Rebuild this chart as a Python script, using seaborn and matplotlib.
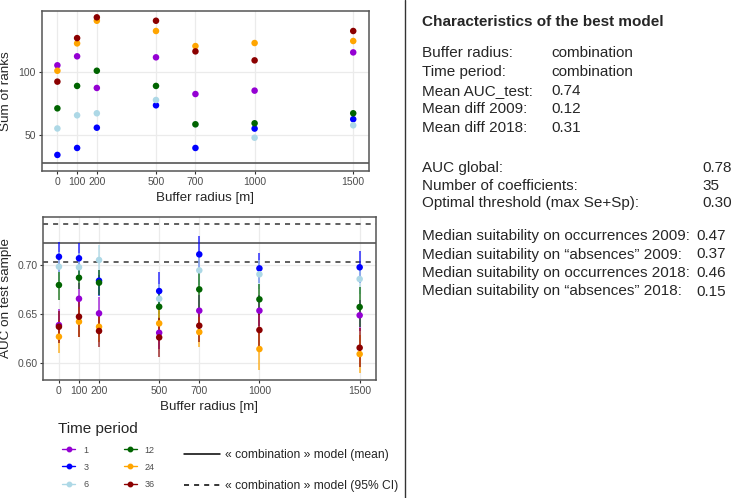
import matplotlib
matplotlib.use("Agg")
import matplotlib.pyplot as plt
from matplotlib.lines import Line2D
import seaborn as sns
import pandas as pd

# ---------------- data ----------------
radius = [0, 100, 200, 500, 700, 1000, 1500]
periods = ["1", "3", "6", "12", "24", "36"]
colors = ["#9400D3", "#0000FF", "#ADD8E6", "#006400", "#FFA500", "#8B0000"]

rank_1 = [105.3, 112.4, 87.4, 111.6, 82.6, 85.3, 115.5]
rank_3 = [34.5, 40.0, 56.0, 73.7, 40.0, 55.3, 62.7]
rank_6 = [55.4, 65.8, 67.4, 77.9, 58.6, 48.1, 57.9]
rank_12 = [71.3, 89.0, 101.0, 89.0, 58.7, 59.5, 67.4]
rank_24 = [101.0, 122.6, 140.5, 132.4, 120.5, 122.9, 124.5]
rank_36 = [92.4, 126.8, 143.2, 140.5, 116.3, 109.2, 132.4]
rank_combination = 27.9

auc_1 = [0.6388, 0.6655, 0.6507, 0.6310, 0.6534, 0.6534, 0.6487]
auc_3 = [0.7081, 0.7065, 0.6838, 0.6733, 0.7105, 0.6963, 0.6974]
auc_6 = [0.6980, 0.6974, 0.7048, 0.6655, 0.6943, 0.6903, 0.6855]
auc_12 = [0.6794, 0.6868, 0.6818, 0.6574, 0.6750, 0.6649, 0.6571]
auc_24 = [0.6270, 0.6422, 0.6371, 0.6405, 0.6317, 0.6145, 0.6094]
auc_36 = [0.6371, 0.6473, 0.6328, 0.6263, 0.6382, 0.6338, 0.6158]

lo_1 = [0.623, 0.650, 0.635, 0.615, 0.638, 0.638, 0.633]
hi_1 = [0.655, 0.681, 0.667, 0.647, 0.669, 0.669, 0.664]
lo_3 = [0.693, 0.691, 0.668, 0.654, 0.692, 0.681, 0.681]
hi_3 = [0.7233, 0.7223, 0.695, 0.6923, 0.7291, 0.7116, 0.7142]
lo_6 = [0.683, 0.682, 0.690, 0.650, 0.679, 0.675, 0.670]
hi_6 = [0.713, 0.712, 0.720, 0.680, 0.709, 0.705, 0.700]
lo_12 = [0.6642, 0.675, 0.669, 0.642, 0.655, 0.649, 0.637]
hi_12 = [0.693, 0.6987, 0.6946, 0.672, 0.6935, 0.6804, 0.6771]
lo_24 = [0.6101, 0.627, 0.622, 0.625, 0.6168, 0.5932, 0.5899]
hi_24 = [0.644, 0.657, 0.652, 0.655, 0.647, 0.635, 0.629]
lo_36 = [0.621, 0.627, 0.6168, 0.6067, 0.622, 0.615, 0.596]
hi_36 = [0.653, 0.667, 0.649, 0.646, 0.654, 0.652, 0.636]

comb_mean = 0.7223
comb_ci = [0.7030, 0.7413]

ranks = [rank_1, rank_3, rank_6, rank_12, rank_24, rank_36]
aucs = [auc_1, auc_3, auc_6, auc_12, auc_24, auc_36]
los = [lo_1, lo_3, lo_6, lo_12, lo_24, lo_36]
his = [hi_1, hi_3, hi_6, hi_12, hi_24, hi_36]

info_rows1 = [("Buffer radius:", "combination"), ("Time period:", "combination"),
              ("Mean AUC_test:", "0.74"), ("Mean diff 2009:", "0.12"),
              ("Mean diff 2018:", "0.31")]
info_rows2 = [("AUC global:", "0.78"), ("Number of coefficients:", "35"),
              ("Optimal threshold (max Se+Sp):", "0.30")]
info_rows3 = [("Median suitability on occurrences 2009:", "0.47"),
              ("Median suitability on \u201cabsences\u201d 2009:", "0.37"),
              ("Median suitability on occurrences 2018:", "0.46"),
              ("Median suitability on \u201cabsences\u201d 2018:", "0.15")]

rows = []
for p, rk, au, lo, hi in zip(periods, ranks, aucs, los, his):
    for r, a, b, c, d in zip(radius, rk, au, lo, hi):
        rows.append(dict(period=p, radius=r, rank=a, auc=b, lo=c, hi=d))
df = pd.DataFrame(rows)
pal = dict(zip(periods, colors))

# ---------------- style ----------------
sns.set_theme(style="white")
plt.rcParams["font.family"] = ["Liberation Sans", "DejaVu Sans"]

W, H = 733, 498
fig = plt.figure(figsize=(W / 100, H / 100), dpi=100)


def px_axes(l, t, r, b):
    return fig.add_axes([l / W, 1 - b / H, (r - l) / W, (b - t) / H])


ax1 = px_axes(42, 11, 369, 171)
ax2 = px_axes(43.3, 216.7, 375.7, 380)

for ax in (ax1, ax2):
    ax.set_facecolor("white")
    ax.grid(True, color="#EBEBEB", lw=0.9, zorder=0)
    ax.set_axisbelow(True)
    for s in ax.spines.values():
        s.set_color("#555555")
        s.set_linewidth(1.1)
    ax.tick_params(axis="both", length=2.5, width=0.8, color="#333333",
                   labelsize=7.5, labelcolor="#4D4D4D", pad=1.8,
                   bottom=True, left=True)
    ax.set_xticks(radius)
    ax.set_xticklabels([str(r) for r in radius])
    ax.set_xlim(-78, 1580)

# top panel
ax1.axhline(rank_combination, color="#555555", lw=1.2, zorder=1)
sns.scatterplot(data=df, x="radius", y="rank", hue="period", palette=pal,
                hue_order=periods, s=22, linewidth=0, legend=False, ax=ax1, zorder=3)
ax1.set_ylim(21.8, 148.2)
ax1.set_yticks([50, 100])
ax1.set_xlabel("Buffer radius [m]", fontsize=9.6, labelpad=3.8)
ax1.set_ylabel("Sum of ranks", fontsize=9.7, labelpad=5)

# bottom panel
ax2.axhline(comb_mean, color="#555555", lw=1.2, zorder=1)
for v in comb_ci:
    ax2.axhline(v, color="#333333", lw=1.1, ls=(0, (3.3, 3.3)), zorder=1)
for p, c in zip(periods, colors):
    sub = df[df.period == p]
    ax2.vlines(sub["radius"], sub["lo"], sub["hi"], color=c, alpha=0.65, lw=1.4, zorder=2)
sns.scatterplot(data=df, x="radius", y="auc", hue="period", palette=pal,
                hue_order=periods, s=22, linewidth=0, legend=False, ax=ax2, zorder=3)
ax2.set_ylim(0.5831, 0.7487)
ax2.set_yticks([0.60, 0.65, 0.70])
ax2.set_yticklabels(["0.60", "0.65", "0.70"])
ax2.set_xlabel("Buffer radius [m]", fontsize=9.6, labelpad=3.8)
ax2.set_ylabel("AUC on test sample", fontsize=9.7, labelpad=4)

# legends
fig.text(58 / W, 1 - 429 / H, "Time period", fontsize=11, va="center", ha="left")
handles = [Line2D([], [], color=c, marker="o", markersize=3.2, lw=1) for c in colors]
leg1 = fig.legend(handles, periods, ncol=2, loc="upper left",
                  bbox_to_anchor=(62 / W, 1 - 445.5 / H), frameon=False, fontsize=6.5,
                  handlelength=1.45, handletextpad=0.9, columnspacing=3.9,
                  labelspacing=0.9, borderpad=0, borderaxespad=0)
for t in leg1.get_texts():
    t.set_color("#4D4D4D")

h2 = [Line2D([], [], color="black", lw=1.1),
      Line2D([], [], color="black", lw=1.1, ls=(0, (3.3, 3.3)))]
fig.legend(h2, ["\u00ab combination \u00bb model (mean)", "\u00ab combination \u00bb model (95% CI)"],
           loc="upper left", bbox_to_anchor=(184 / W, 1 - 449 / H), frameon=False,
           fontsize=8.7, handlelength=3.0, handletextpad=0.4, labelspacing=1.6,
           borderpad=0, borderaxespad=0)

# separator
fig.add_artist(Line2D([405 / W, 405 / W], [0, 1], color="#333333", lw=1.0))

# right text panel
xl, xv = 421.7 / W, 551.7 / W
fig.text(xl, 1 - 21.7 / H, "Characteristics of the best model", fontsize=11,
         fontweight="bold", va="center", ha="left")
for (lab, val), y in zip(info_rows1, [53.3, 71.8, 90.6, 109.3, 128.2]):
    fig.text(xl, 1 - y / H, lab, fontsize=11, va="center")
    fig.text(xv, 1 - y / H, val, fontsize=11, va="center")
for (lab, val), y in zip(info_rows2, [168, 185.5, 203]):
    fig.text(xl, 1 - y / H, lab, fontsize=11, va="center")
    fig.text(702 / W, 1 - y / H, val, fontsize=11, va="center")
for (lab, val), y in zip(info_rows3, [236, 254.5, 273, 291.5]):
    fig.text(xl, 1 - y / H, lab, fontsize=11, va="center")
    fig.text(696.7 / W, 1 - y / H, val, fontsize=11, va="center")

fig.savefig("out.png", dpi=100)
